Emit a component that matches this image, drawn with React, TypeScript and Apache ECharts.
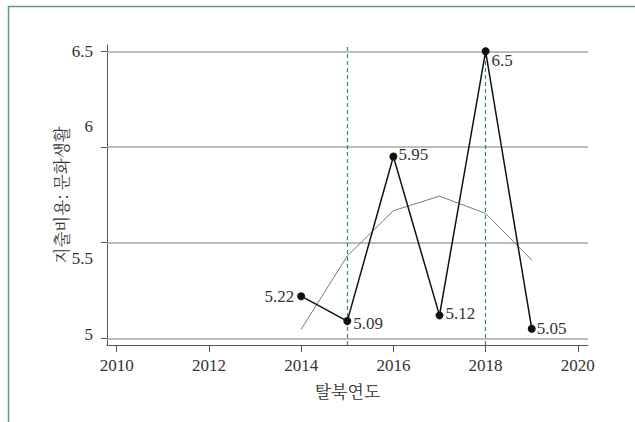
import React, { useEffect, useRef } from "react";
import * as echarts from "echarts";

const years = [2014, 2015, 2016, 2017, 2018, 2019];
const spending = [5.22, 5.09, 5.95, 5.12, 6.5, 5.05];
const smooth = [5.047, 5.43, 5.667, 5.743, 5.653, 5.409];
const xTicks = [2010, 2012, 2014, 2016, 2018, 2020];
const yTicks = [5, 5.5, 6, 6.5];
const refYears = [2015, 2018];

const serif = "Liberation Serif";
const kr = "'Noto Serif CJK KR', 'Noto Sans CJK KR', serif";

export default function App() {
  const ref = useRef<HTMLDivElement>(null);
  useEffect(() => {
    if (!ref.current) return;
    const chart = echarts.init(ref.current, null, { renderer: "svg" });
    const labelPos: Record<number, any> = {
      2014: { position: "left", distance: 3 },
      2015: { position: "right", distance: 2, offset: [0, 2] },
      2016: { position: "right", distance: 1, offset: [0, -2] },
      2017: { position: "right", distance: 2, offset: [0, -2] },
      2018: { position: "right", distance: 2, offset: [0, 9] },
      2019: { position: "right", distance: 1 },
    };
    const yShift: Record<string, string> = { "5": "a", "5.5": "b", "6": "c", "6.5": "d" };
    chart.setOption({
      animation: false,
      backgroundColor: "#ffffff",
      graphic: [
        {
          type: "polyline",
          shape: { points: [[8.5, 422], [8.5, 6.5], [635, 6.5]] },
          style: { stroke: "#5b9c86", lineWidth: 1.5, fill: "none" },
          silent: true,
        },
      ],
      grid: { left: 107, right: 47, top: 45, bottom: 77, containLabel: false },
      xAxis: {
        type: "value",
        min: 2009.79,
        max: 2020.22,
        name: "탈북연도",
        nameLocation: "middle",
        nameGap: 37,
        nameMoveOverlap: false,
        nameTextStyle: { fontFamily: kr, fontSize: 17, color: "#333" },
        axisLine: { show: true, lineStyle: { color: "#555", width: 1 } },
        axisTick: { show: true, customValues: xTicks, length: 7, lineStyle: { color: "#555" } },
        axisLabel: {
          customValues: xTicks,
          formatter: (v: number) => String(v),
          fontFamily: serif,
          fontSize: 17,
          color: "#333",
          margin: 12,
        },
        splitLine: { show: false },
      },
      yAxis: {
        type: "value",
        min: 4.965,
        max: 6.533,
        name: "지출비용: 문화생활",
        nameLocation: "middle",
        nameGap: 38,
        nameMoveOverlap: false,
        nameTextStyle: { fontFamily: kr, fontSize: 16.5, color: "#333" },
        axisLine: { show: true, lineStyle: { color: "#555", width: 1 } },
        axisTick: { show: true, customValues: yTicks, length: 6, lineStyle: { color: "#555" } },
        axisLabel: {
          customValues: yTicks,
          formatter: (v: number) => `{${yShift[String(v)] || "d"}|${v}}`,
          fontFamily: serif,
          fontSize: 17,
          color: "#333",
          margin: 14,
          rich: {
            a: { fontFamily: serif, fontSize: 17, color: "#333", padding: [0, 0, 8, 0] },
            b: { fontFamily: serif, fontSize: 17, color: "#333", padding: [32, 0, 0, 0] },
            c: { fontFamily: serif, fontSize: 17, color: "#333", padding: [0, 0, 40, 0] },
            d: { fontFamily: serif, fontSize: 17, color: "#333" },
          },
        },
        splitLine: { show: false },
      },
      series: [
        {
          type: "line",
          data: [],
          z: 1,
          silent: true,
          markLine: {
            z: 1,
            silent: true,
            symbol: "none",
            label: { show: false },
            lineStyle: { color: "#a6a6a6", width: 1.5, type: "solid" },
            data: yTicks.map((v) => ({ yAxis: v })),
          },
        },
        {
          type: "line",
          data: smooth.map((v, i) => [years[i], v]),
          showSymbol: false,
          symbol: "none",
          z: 2,
          lineStyle: { color: "#7a7a7a", width: 1 },
          markLine: {
            z: 1,
            silent: true,
            symbol: "none",
            label: { show: false },
            lineStyle: { color: "#2f8a6c", width: 1.2, type: [4, 3] },
            data: refYears.map((v) => ({ xAxis: v })),
          },
        },
        {
          type: "line",
          z: 3,
          data: spending.map((v, i) => ({
            value: [years[i], v],
            label: labelPos[years[i]],
          })),
          symbol: "circle",
          symbolSize: 8,
          itemStyle: { color: "#111" },
          lineStyle: { color: "#111", width: 1.5 },
          label: {
            show: true,
            formatter: (p: any) => String(p.value[1]),
            fontFamily: serif,
            fontSize: 17,
            color: "#333",
          },
        },
      ],
    });
    return () => chart.dispose();
  }, []);
  return (
    <div
      ref={ref}
      style={{ position: "fixed", left: 0, top: 0, width: 635, height: 422 }}
    />
  );
}
